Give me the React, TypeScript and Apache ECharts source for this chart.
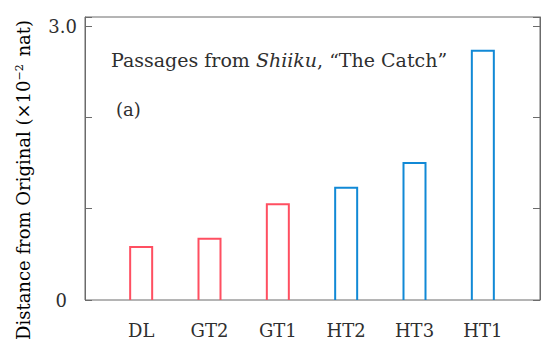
import React, { useEffect, useRef } from "react";
import * as echarts from "echarts";

const categories = ["DL", "GT2", "GT1", "HT2", "HT3", "HT1"];
const values = [0.58, 0.67, 1.05, 1.23, 1.5, 2.73];
const groups = ["GT", "GT", "GT", "HT", "HT", "HT"];

const FONT = "DejaVu Serif";
const RED = "#ff4f61";
const BLUE = "#1189d6";
const AXIS = "#6b6b6b";
const TXT = "#2f2f2f";

export default function App() {
  const ref = useRef<HTMLDivElement>(null);
  useEffect(() => {
    const chart = echarts.init(ref.current!, null, { renderer: "svg" });
    const data = values.map((v, i) => ({ value: [i, v], group: groups[i] }));
    chart.setOption({
      animation: false,
      backgroundColor: "#fff",
      title: [
        {
          text: "{n|Passages from }{i|Shiiku}{n|, “The Catch”}",
          left: 106,
          top: 45,
          textStyle: {
            fontWeight: "normal",
            rich: {
              n: { fontFamily: FONT, fontSize: 19, fontWeight: "normal", color: TXT },
              i: { fontFamily: FONT, fontSize: 19, fontWeight: "normal", fontStyle: "italic", color: TXT },
            },
          },
        },
        {
          text: "(a)",
          left: 111,
          top: 95,
          textStyle: { fontFamily: FONT, fontSize: 18, fontWeight: "normal", color: TXT },
        },
      ],
      graphic: [
        {
          type: "text",
          x: 23,
          y: 180,
          rotation: Math.PI / 2,
          style: {
            text: "{n|Distance from Original (×10}{s|−2}{n| nat)}",
            align: "center",
            verticalAlign: "middle",
            rich: {
              n: { fontFamily: FONT, fontSize: 18, color: TXT },
              s: { fontFamily: FONT, fontSize: 11, color: TXT, verticalAlign: "top", padding: [0, 2, 8, 0] },
            },
          },
        },
      ],
      grid: [
        { left: 85, right: 10, top: 17, bottom: 51, show: true, borderColor: AXIS, borderWidth: 1 },
        { left: 107, right: 33, top: 17, bottom: 51 },
      ],
      xAxis: [
        { gridIndex: 0, type: "value", min: 0, max: 1, show: false },
        {
          gridIndex: 1,
          type: "category",
          data: categories,
          axisLine: { show: false },
          axisTick: { show: false },
          axisLabel: { fontFamily: FONT, fontSize: 18, color: TXT, margin: 21 },
        },
      ],
      yAxis: [
        {
          gridIndex: 0,
          type: "value",
          min: 0,
          max: 3.1,
          interval: 1,
          axisLine: { show: true, lineStyle: { color: AXIS } },
          axisTick: { show: true, inside: true, length: 7, lineStyle: { color: AXIS } },
          splitLine: { show: false },
          axisLabel: {
            fontFamily: FONT,
            fontSize: 18,
            color: TXT,
            margin: 8,
            formatter: (v: number) => (v === 0 ? "{z|0}" : v === 3 ? "3.0" : ""),
            rich: { z: { fontFamily: FONT, fontSize: 18, color: TXT, padding: [0, 10, 0, 0] } },
          },
        },
        {
          gridIndex: 0,
          type: "value",
          position: "right",
          min: 0,
          max: 3.1,
          interval: 1,
          axisLine: { show: true, lineStyle: { color: AXIS } },
          axisTick: { show: true, inside: true, length: 7, lineStyle: { color: AXIS } },
          splitLine: { show: false },
          axisLabel: { show: false },
        },
        { gridIndex: 1, type: "value", min: 0, max: 3.1, show: false },
      ],
      series: [
        {
          type: "custom",
          xAxisIndex: 1,
          yAxisIndex: 2,
          data,
          renderItem: (params: any, api: any) => {
            const idx = params.dataIndex;
            const x = api.value(0);
            const v = api.value(1);
            const top = api.coord([x, v]);
            const base = api.coord([x, 0]);
            const w = 22;
            const color = groups[idx] === "GT" ? RED : BLUE;
            return {
              type: "polyline",
              shape: {
                points: [
                  [base[0] - w / 2, base[1]],
                  [base[0] - w / 2, top[1]],
                  [base[0] + w / 2, top[1]],
                  [base[0] + w / 2, base[1]],
                ],
              },
              style: { stroke: color, fill: "none", lineWidth: 2 },
            };
          },
        },
      ],
    });
    return () => chart.dispose();
  }, []);
  return <div ref={ref} style={{ width: 550, height: 351, position: "absolute", left: 0, top: 0 }} />;
}
